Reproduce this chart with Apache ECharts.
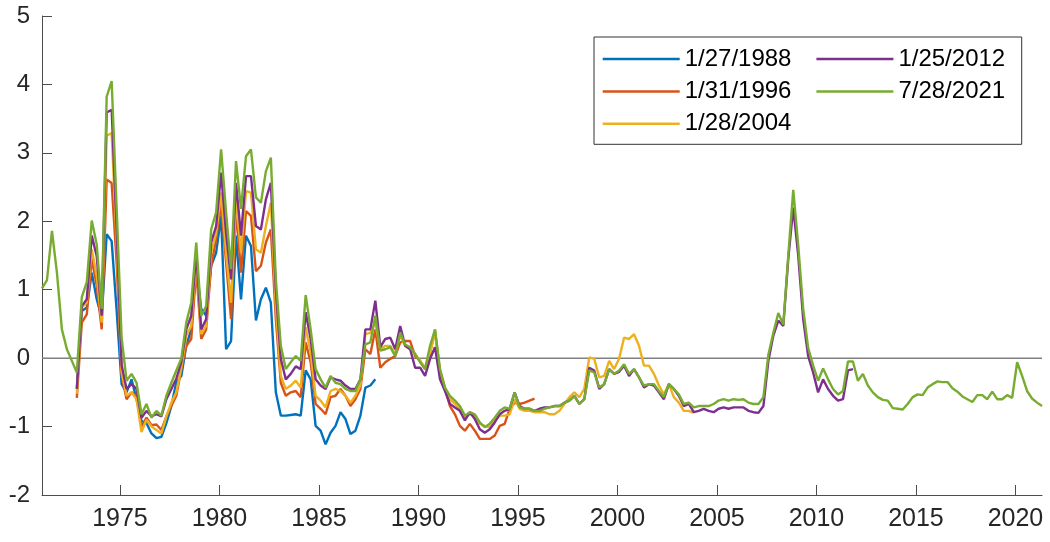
<!DOCTYPE html>
<html>
<head>
<meta charset="utf-8">
<script src="https://cdn.jsdelivr.net/npm/echarts@6/dist/echarts.min.js"></script>
<style>
  html, body { margin: 0; padding: 0; background: #fff; }
  #chart { width: 1050px; height: 542px; }
</style>
</head>
<body>
<div id="chart"></div>
<script>
// quarterly observations, each series starts at its first quarter
// dates sit one month into the quarter
const QUARTER_OFFSET = 1 / 12

const xTicks = [1975, 1980, 1985, 1990, 1995, 2000, 2005, 2010, 2015, 2020]

const names = ['1/27/1988', '1/31/1996', '1/28/2004', '1/25/2012', '7/28/2021']
const colors = ['#0072BD', '#D95319', '#EDB120', '#7E2F8E', '#77AC30']

const start1988 = 1972.75
const vintage1988 = [
  -0.45,
  0.69, 0.74, 1.25, 0.86,
  0.59, 1.81, 1.71, 0.7,
  -0.38, -0.5, -0.31, -0.6,
  -0.92, -0.95, -1.1, -1.17,
  -1.15, -0.95, -0.7, -0.35,
  -0.26, 0.18, 0.42, 1.35,
  0.72, 0.62, 1.35, 1.54,
  2.08, 0.13, 0.25, 1.79,
  0.86, 1.79, 1.64, 0.55,
  0.86, 1.03, 0.81, -0.5,
  -0.84, -0.84, -0.83, -0.82,
  -0.84, -0.18, -0.31, -0.99,
  -1.06, -1.26, -1.09, -0.99,
  -0.79, -0.89, -1.11, -1.06,
  -0.84, -0.43, -0.4, -0.31
]

const start1996 = 1972.75
const vintage1996 = [
  -0.58,
  0.52, 0.64, 1.45, 1.06,
  0.42, 2.61, 2.56, 1.4,
  -0.25, -0.6, -0.5, -0.55,
  -1.0, -0.87, -0.98, -0.97,
  -1.05, -0.85, -0.7, -0.55,
  -0.16, 0.18, 0.28, 1.3,
  0.28, 0.42, 1.35, 1.74,
  2.25, 1.4, 0.57, 2.18,
  1.25, 2.15, 2.08, 1.27,
  1.35, 1.69, 1.88, 0.57,
  -0.36, -0.55, -0.5, -0.48,
  -0.57, 0.23, -0.06, -0.67,
  -0.74, -0.82, -0.57, -0.55,
  -0.45, -0.55, -0.7, -0.6,
  -0.45, 0.13, 0.06, 0.42,
  -0.14, -0.06, -0.01, 0.03,
  0.23, 0.25, 0.25, 0.03,
  -0.04, -0.16, 0.08, 0.4,
  -0.21, -0.45, -0.7, -0.82,
  -0.99, -1.06, -0.96, -1.06,
  -1.18, -1.18, -1.18, -1.13,
  -0.99, -0.96, -0.74, -0.65,
  -0.67, -0.65, -0.62, -0.59
]

const start2004 = 1972.75
const vintage2004 = [
  -0.52,
  0.74, 0.81, 1.59, 1.2,
  0.52, 3.25, 3.29, 1.7,
  -0.2, -0.55, -0.5, -0.6,
  -1.08, -0.9, -1.0, -1.05,
  -1.1, -0.85, -0.65, -0.5,
  -0.14, 0.33, 0.47, 1.45,
  0.35, 0.47, 1.54, 1.83,
  2.42, 1.54, 0.81, 2.32,
  1.54, 2.44, 2.42, 1.59,
  1.54, 1.93, 2.27, 0.76,
  -0.26, -0.45, -0.4, -0.33,
  -0.43, 0.45, 0.08, -0.55,
  -0.62, -0.72, -0.48, -0.45,
  -0.48, -0.55, -0.65, -0.55,
  -0.4, 0.35, 0.37, 0.52,
  0.13, 0.18, 0.18, 0.06,
  0.33, 0.18, 0.13, 0.06,
  -0.04, -0.14, 0.08, 0.37,
  -0.18, -0.43, -0.6, -0.67,
  -0.74, -0.87, -0.82, -0.84,
  -0.96, -0.99, -1.01, -0.91,
  -0.84, -0.84, -0.82, -0.6,
  -0.74, -0.77, -0.77, -0.79,
  -0.79, -0.79, -0.82, -0.82,
  -0.77, -0.67, -0.57, -0.5,
  -0.57, -0.45, 0.01, -0.01,
  -0.28, -0.26, -0.04, -0.16,
  -0.01, 0.3, 0.28, 0.35,
  0.18, -0.11, -0.11, -0.23,
  -0.4, -0.53, -0.38, -0.57,
  -0.65, -0.77, -0.77, -0.8
]

const start2012 = 1972.75
const vintage2012 = [
  -0.45,
  0.76, 0.86, 1.79, 1.49,
  0.62, 3.59, 3.63, 1.9,
  -0.1, -0.45, -0.38, -0.45,
  -0.87, -0.77, -0.85, -0.82,
  -0.85, -0.6, -0.45, -0.3,
  -0.06, 0.42, 0.62, 1.54,
  0.42, 0.57, 1.69, 1.93,
  2.71, 1.83, 1.15, 2.56,
  1.79, 2.66, 2.66, 1.93,
  1.88, 2.32, 2.56, 1.0,
  -0.01, -0.31, -0.23, -0.12,
  -0.16, 0.67, 0.28, -0.31,
  -0.4, -0.45, -0.28, -0.31,
  -0.33, -0.4, -0.45, -0.45,
  -0.31, 0.42, 0.42, 0.84,
  0.16, 0.28, 0.3, 0.13,
  0.47, 0.18, 0.13, -0.14,
  -0.14, -0.26, -0.01, 0.16,
  -0.31, -0.48, -0.67, -0.72,
  -0.77, -0.91, -0.79, -0.89,
  -1.04, -1.09, -1.04, -0.94,
  -0.82, -0.77, -0.74, -0.5,
  -0.7, -0.74, -0.74, -0.77,
  -0.74, -0.72, -0.72, -0.7,
  -0.7, -0.65, -0.62, -0.55,
  -0.67, -0.6, -0.14, -0.18,
  -0.45, -0.38, -0.16, -0.23,
  -0.2, -0.11, -0.26, -0.16,
  -0.28, -0.43, -0.38, -0.4,
  -0.5, -0.6, -0.38, -0.45,
  -0.55, -0.7, -0.67, -0.79,
  -0.77, -0.74, -0.77, -0.79,
  -0.74, -0.72, -0.74, -0.72,
  -0.72, -0.72, -0.77, -0.79,
  -0.8, -0.7, -0.04, 0.33,
  0.55, 0.47, 1.45, 2.2,
  1.5, 0.57, 0.03, -0.21,
  -0.5, -0.31, -0.45, -0.55,
  -0.62, -0.6, -0.18, -0.16
]

const start2021 = 1971
const vintage2021 = [
  1.02, 1.14, 1.86, 1.25,
  0.42, 0.13, -0.04, -0.21,
  0.89, 1.11, 2.01, 1.66,
  0.72, 3.82, 4.05, 2.2,
  0.3, -0.33, -0.23, -0.36,
  -0.82, -0.67, -0.87, -0.77,
  -0.84, -0.55, -0.36, -0.18,
  -0.01, 0.52, 0.81, 1.69,
  0.62, 0.76, 1.88, 2.13,
  3.05, 2.13, 1.3, 2.88,
  2.18, 2.95, 3.05, 2.35,
  2.27, 2.73, 2.93, 1.15,
  0.18, -0.16, -0.06, 0.03,
  -0.04, 0.92, 0.42, -0.16,
  -0.31, -0.43, -0.26, -0.36,
  -0.38, -0.45, -0.48, -0.48,
  -0.31, 0.2, 0.23, 0.62,
  0.11, 0.13, 0.16, 0.03,
  0.37, 0.2, 0.16, 0.06,
  -0.06, -0.16, 0.18, 0.42,
  -0.16, -0.43, -0.55, -0.62,
  -0.7, -0.84, -0.79, -0.82,
  -0.94, -1.01, -0.96, -0.87,
  -0.77, -0.72, -0.74, -0.5,
  -0.72, -0.74, -0.74, -0.77,
  -0.77, -0.74, -0.72, -0.7,
  -0.7, -0.65, -0.62, -0.55,
  -0.67, -0.6, -0.18, -0.21,
  -0.43, -0.38, -0.16, -0.23,
  -0.18, -0.09, -0.23, -0.16,
  -0.28, -0.4, -0.38, -0.38,
  -0.48, -0.57, -0.38, -0.45,
  -0.53, -0.67, -0.65, -0.72,
  -0.7, -0.7, -0.7, -0.67,
  -0.62, -0.6, -0.62, -0.6,
  -0.61, -0.6, -0.65, -0.67,
  -0.67, -0.57, 0.05, 0.37,
  0.66, 0.49, 1.5, 2.46,
  1.65, 0.72, 0.15, -0.11,
  -0.33, -0.15, -0.31, -0.45,
  -0.53, -0.48, -0.05, -0.05,
  -0.33, -0.23, -0.4, -0.5,
  -0.57, -0.61, -0.62, -0.73,
  -0.74, -0.75, -0.67, -0.57,
  -0.53, -0.54, -0.43, -0.38,
  -0.34, -0.35, -0.35, -0.44,
  -0.49, -0.56, -0.6, -0.64,
  -0.54, -0.54, -0.6, -0.49,
  -0.6, -0.6, -0.54, -0.58,
  -0.06, -0.26, -0.48, -0.59,
  -0.65, -0.7
]

const starts = [start1988, start1996, start2004, start2012, start2021]
const vintages = [vintage1988, vintage1996, vintage2004, vintage2012, vintage2021]

function toPoints(start, values) {
  return values.map((v, i) => [start + QUARTER_OFFSET + i * 0.25, v])
}

const xMin = start2021 + QUARTER_OFFSET
const xMax = start2021 + QUARTER_OFFSET + (vintage2021.length - 1) * 0.25

const axisColor = '#4d4d4d'
const labelColor = '#262626'
const font = '"Liberation Sans", Arial, Helvetica, sans-serif'

const chart = echarts.init(document.getElementById('chart'))

const series = [{
  name: 'zero',
  type: 'line',
  silent: true,
  symbol: 'none',
  data: [[xMin, 0], [xMax, 0]],
  lineStyle: { color: '#808080', width: 1.5 },
  z: 1
}]
names.forEach((name, i) => {
  series.push({
    name: name,
    type: 'line',
    symbol: 'none',
    color: colors[i],
    data: toPoints(starts[i], vintages[i]),
    lineStyle: { width: 2.4, color: colors[i] },
    z: 2 + i
  })
})

chart.setOption({
  animation: false,
  backgroundColor: '#fff',
  grid: {
    left: 42,
    right: 8,
    top: 16,
    bottom: 47
  },
  legend: {
    // row-major order so that the columns read like the original
    data: ['1/27/1988', '1/25/2012', '1/31/1996', '7/28/2021', '1/28/2004'],
    left: 594,
    top: 37,
    width: 425,
    orient: 'horizontal',
    icon: 'rect',
    itemWidth: 77,
    itemHeight: 2.5,
    itemGap: 8.4,
    padding: [10, 0, 8.5, 8.7],
    borderColor: '#333',
    borderWidth: 1,
    backgroundColor: '#fff',
    textStyle: {
      color: '#000',
      fontSize: 24,
      fontFamily: font,
      width: 123.3,
      lineHeight: 21
    }
  },
  xAxis: {
    type: 'value',
    min: xMin,
    max: xMax,
    axisLine: { show: true, onZero: false, lineStyle: { color: axisColor, width: 1 } },
    axisTick: {
      show: true,
      inside: true,
      length: 10,
      customValues: xTicks,
      lineStyle: { color: axisColor }
    },
    axisLabel: {
      customValues: xTicks,
      formatter: (v) => String(v),
      color: labelColor,
      fontSize: 25,
      fontFamily: font,
      margin: 12
    },
    splitLine: { show: false }
  },
  yAxis: {
    type: 'value',
    min: -2,
    max: 5,
    interval: 1,
    axisLine: { show: true, lineStyle: { color: axisColor, width: 1 } },
    axisTick: { show: true, inside: true, length: 10, lineStyle: { color: axisColor } },
    axisLabel: {
      color: labelColor,
      fontSize: 24,
      fontFamily: font,
      margin: 12
    },
    splitLine: { show: false }
  },
  series: series
})

window.addEventListener('resize', () => {
  chart.resize()
})
</script>
</body>
</html>
